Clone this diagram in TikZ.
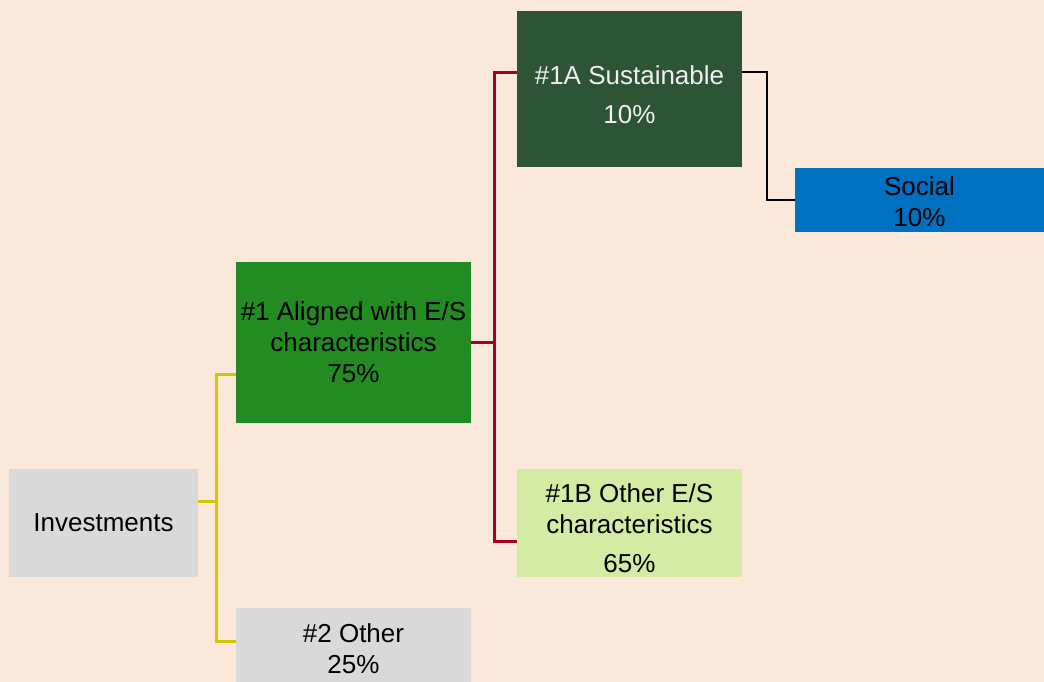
\documentclass[tikz,border=0pt]{standalone}
\usepackage{fontspec}
\setmainfont{Liberation Sans}
\usetikzlibrary{positioning}

\definecolor{pagebg}{RGB}{250,233,218}
\definecolor{boxgray}{RGB}{217,217,217}
\definecolor{alignedgreen}{RGB}{34,139,34}
\definecolor{sustgreen}{RGB}{45,84,52}
\definecolor{othergreen}{RGB}{211,235,163}
\definecolor{socialblue}{RGB}{0,112,192}
\definecolor{linkyellow}{RGB}{210,200,0}
\definecolor{linkred}{RGB}{168,0,36}

\begin{document}
\begin{tikzpicture}[x=1pt, y=-1pt,
      every node/.style={font=\fontsize{26}{31}\selectfont, align=center, inner sep=0pt},
      catbox/.style={draw=none, minimum width=235pt},
      subbox/.style={draw=none, minimum width=225pt},
      yellowlink/.style={draw=linkyellow, line width=3pt},
      redlink/.style={draw=linkred, line width=3pt},
      blacklink/.style={draw=black, line width=1.8pt},
  ]
    \fill[pagebg] (0,0) rectangle (1044,682);
    \useasboundingbox (0,0) rectangle (1044,682);

    \node[fill=boxgray, minimum width=189pt, minimum height=108pt] (invest) at (103.5,523) {Investments};
    \node[catbox, fill=alignedgreen, minimum height=161pt] (aligned) at (353.5,342.5)
      {\#1 Aligned with E/S\\characteristics\\75\%};
    \node[catbox, fill=boxgray, minimum height=82pt] (other) at (353.5,649) {\#2 Other\\25\%};
    \node[subbox, fill=sustgreen, text=white!94!black, minimum height=156pt] (sust) at (629.5,89)
      {\rule{0pt}{30pt}\#1A Sustainable\\[8pt]10\%};
    \node[subbox, fill=othergreen, minimum height=108pt] (esother) at (629.5,523)
      {\rule{0pt}{30pt}\#1B Other E/S\\characteristics\\[8pt]65\%};
    \node[fill=socialblue, minimum width=249pt, minimum height=64pt] (social) at (919.5,200)
      {\rule{0pt}{23pt}Social\\10\%};

    \coordinate (yj) at (216,501);
    \coordinate (rj) at (494,341);
    \coordinate (bj) at (767,200);

    % tree links
    \draw[yellowlink] ([yshift=22pt]invest.east) -- (yj);
    \draw[yellowlink] ([yshift=-32pt]aligned.west) -| (yj) |- ([yshift=8pt]other.west);
    \draw[redlink] (aligned.east) -- (aligned.east -| rj);
    \draw[redlink] ([yshift=16pt]sust.west) -| (rj) |- ([yshift=-18pt]esother.west);
    \draw[blacklink] ([yshift=17pt]sust.east) -| (bj) -- (social.west);
  \end{tikzpicture}
\end{document}
